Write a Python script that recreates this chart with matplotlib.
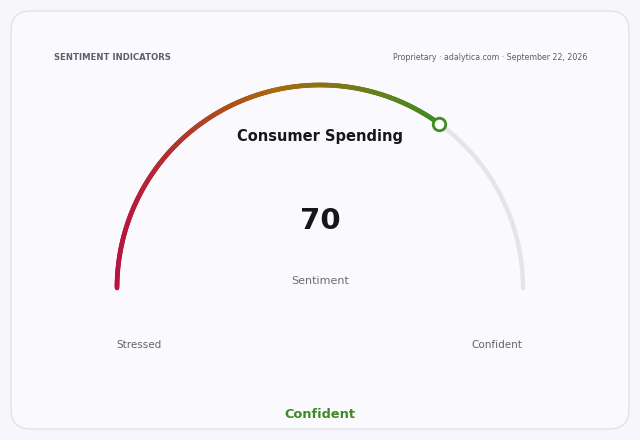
import numpy as np
import matplotlib
matplotlib.use("Agg")
import matplotlib.pyplot as plt
from matplotlib.collections import LineCollection
from matplotlib.colors import LinearSegmentedColormap
from matplotlib.patches import FancyBboxPatch

plt.rcParams["font.family"] = ["DejaVu Sans"]

# ---- data ----
title = "Consumer Spending"
value = 70
vmin, vmax = 0, 100
metric_label = "Sentiment"
low_label, high_label = "Stressed", "Confident"
status_label = "Confident"
header_left = "SENTIMENT INDICATORS"
header_right = "Proprietary · adalytica.com · September 22, 2026"
grad_stops = [0.0, 0.5, 1.0]
grad_colors = ["#b8143f", "#a9690f", "#3f8c22"]

W, H = 640, 440
fig = plt.figure(figsize=(W / 100, H / 100), dpi=100)
fig.patch.set_facecolor("#f6f6fb")
ax = fig.add_axes([0, 0, 1, 1])
ax.set_xlim(0, W)
ax.set_ylim(H, 0)
ax.axis("off")

card = FancyBboxPatch((11, 11), 618, 418, boxstyle="round,pad=0,rounding_size=20",
                      facecolor="#fafafe", edgecolor="#e2e2ea", linewidth=1.0)
ax.add_patch(card)

cx, cy, r = 320, 288, 203

def pt(v):
    a = np.pi * (1 - (v - vmin) / (vmax - vmin))
    return cx + r * np.cos(a), cy - r * np.sin(a)

# track
vs = np.linspace(vmin, vmax, 400)
tx, ty = zip(*[pt(v) for v in vs])
ax.plot(tx, ty, color="#e4e4e9", lw=3.2, solid_capstyle="round", zorder=2)

# gradient filled arc (horizontal linear gradient across the filled span)
vf = np.linspace(vmin, value, 300)
pts = np.array([pt(v) for v in vf])
segs = np.stack([pts[:-1], pts[1:]], axis=1)
cmap = LinearSegmentedColormap.from_list("g", list(zip(grad_stops, grad_colors)))
midx = (pts[:-1, 0] + pts[1:, 0]) / 2
t = (midx - pts[:, 0].min()) / (pts[:, 0].max() - pts[:, 0].min())
lc = LineCollection(segs, colors=cmap(t), linewidths=3.4, capstyle="round", zorder=3)
ax.add_collection(lc)

mx, my = pt(value)
ax.plot([mx], [my], marker="o", ms=9, mfc="white", mec=grad_colors[-1], mew=2, zorder=4)

ax.text(cx, 137, title, ha="center", va="center", fontsize=10.5, fontweight="bold", color="#16161c")
ax.text(cx, 221, str(value), ha="center", va="center", fontsize=21, fontweight="bold", color="#16161c")
ax.text(cx, 281, metric_label, ha="center", va="center", fontsize=8, color="#6b6b75")
ax.text(139, 345, low_label, ha="center", va="center", fontsize=7.5, color="#62626c")
ax.text(497, 345, high_label, ha="center", va="center", fontsize=7.5, color="#62626c")
ax.text(cx, 414, status_label, ha="center", va="center", fontsize=9.3, fontweight="bold", color="#3f8a22")
ax.text(54, 57, header_left, ha="left", va="center", fontsize=6.1, fontweight="bold", color="#5d5d6b")
ax.text(587, 57, header_right, ha="right", va="center", fontsize=5.7, color="#5d5d6b")

fig.savefig("out.png", dpi=100, facecolor=fig.get_facecolor())
